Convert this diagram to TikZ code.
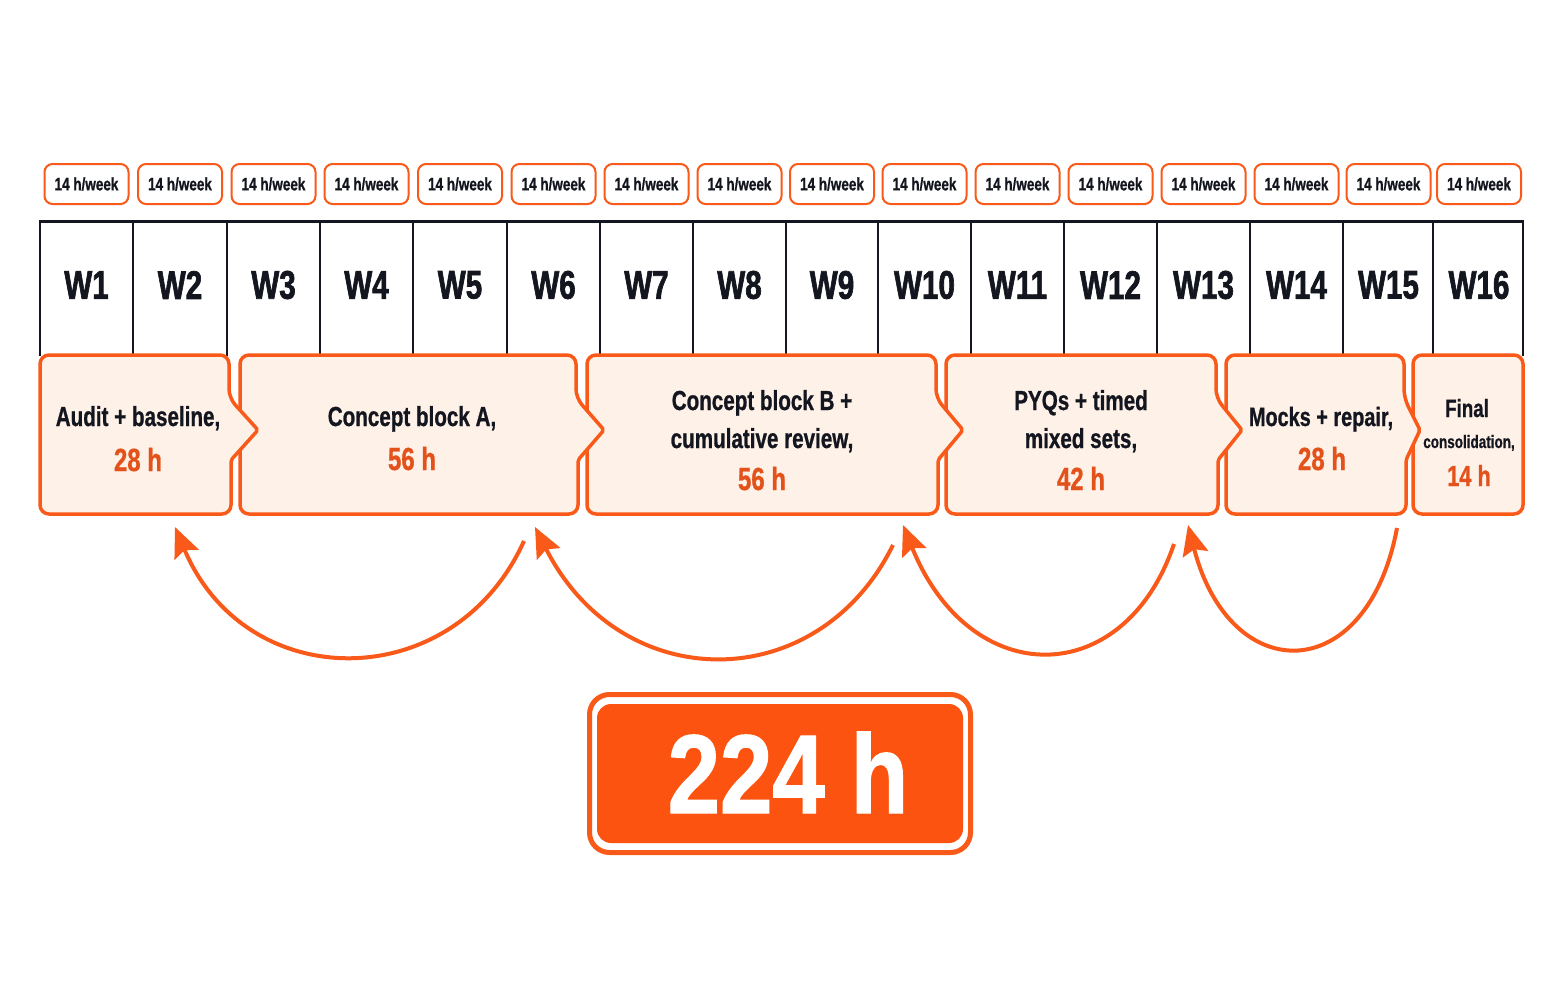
\documentclass[tikz,border=0pt]{standalone}
\usepackage{fontspec}
\usetikzlibrary{arrows.meta}
\newfontfamily\condf{Liberation Sans}[FakeStretch=0.75, BoldFeatures={FakeBold=0.8}]
\newfontfamily\heavyf{Liberation Sans}[FakeStretch=0.74, BoldFeatures={FakeBold=1.6}]
\newfontfamily\bigf{Liberation Sans}[FakeStretch=0.84, BoldFeatures={FakeBold=1.2}]
\definecolor{org}{HTML}{F95A1A}
\definecolor{orgfill}{HTML}{FC5410}
\definecolor{peach}{HTML}{FEF1E8}
\definecolor{ink}{HTML}{14161F}
\definecolor{otext}{HTML}{E4521B}
\newcommand\phbox[3]{%
  \draw[phase] (#1,355) [rounded corners=9pt] -- (#2,355) -- (#2,398)
    [rounded corners=2pt] -- (#3,430) -- (#2+2,460)
    [rounded corners=9pt] -- (#2+2,514) -- (#1,514) -- cycle;}
\begin{document}
\begin{tikzpicture}[x=1pt,y=-1pt,
  wkbox/.style={draw=org, line width=2pt, fill=white, rounded corners=8pt,
    minimum width=84pt, minimum height=40pt, inner sep=0pt,
    font=\condf\bfseries\fontsize{18}{20}\selectfont, text=ink},
  wlab/.style={font=\heavyf\bfseries\fontsize{40}{44}\selectfont, text=ink, inner sep=0pt},
  ptxt/.style={font=\condf\bfseries\fontsize{27.5}{32}\selectfont, text=ink, inner sep=0pt, anchor=base},
  phrs/.style={font=\condf\bfseries\fontsize{32}{36}\selectfont, text=otext, inner sep=0pt, anchor=base},
  phase/.style={draw=org, line width=3.5pt, fill=peach, line join=round},
  loop/.style={draw=org, line width=4pt, -{Stealth[length=30pt,width=26pt,inset=5pt]}},
  tabline/.style={draw=ink, line width=1.8pt}]
\useasboundingbox (0,0) rectangle (1563,1006);
\fill[white] (0,0) rectangle (1563,1006);
% table
\foreach \sx in {40,133,227,320,413,507,600,693,786,878,971,1064,1157,1250,1343,1433,1523}
  \draw[tabline] (\sx,221) -- (\sx,356);
\draw[ink, line width=3pt] (39,221) -- (1524,221);
% week labels and hour labels
\foreach \i/\cx in {1/86.5,2/180,3/273.5,4/366.5,5/460,6/553.5,7/646.5,8/739.5,9/832,10/924.5,11/1017.5,12/1110.5,13/1203.5,14/1296.5,15/1388.5,16/1479}{
  \node[wkbox] (wk\i) at (\cx,184) {14 h/week};
  \node[wlab] (w\i) at (\cx,285) {W\i};
}
% phase boxes (reverse order so chevrons overlap the next box)
\draw[phase] (1413,355) [rounded corners=9pt] -- (1523,355) -- (1523,514) -- (1413,514) -- cycle;
\phbox{1226}{1404}{1420}
\phbox{946}{1216}{1242}
\phbox{587}{936}{963}
\phbox{240}{576}{604}
\phbox{40}{229}{258}
% phase texts
\node[ptxt] (p1a) at (138,426) {Audit + baseline,};
\node[phrs] (p1b) at (138,471) {28 h};
\node[ptxt] (p2a) at (412,426) {Concept block A,};
\node[phrs] (p2b) at (412,470) {56 h};
\node[ptxt] (p3a) at (762,410) {Concept block B +};
\node[ptxt] (p3b) at (762,448) {cumulative review,};
\node[phrs] (p3c) at (762,490) {56 h};
\node[ptxt] (p4a) at (1081,410) {PYQs + timed};
\node[ptxt] (p4b) at (1081,448) {mixed sets,};
\node[phrs] (p4c) at (1081,490) {42 h};
\node[ptxt, font=\condf\bfseries\fontsize{26.5}{30}\selectfont] (p5a) at (1321,426) {Mocks + repair,};
\node[phrs] (p5b) at (1322,470) {28 h};
\node[ptxt, font=\condf\bfseries\fontsize{25}{28}\selectfont] (p6a) at (1467,417) {Final};
\node[ptxt, font=\condf\bfseries\fontsize{18}{20}\selectfont] (p6b) at (1469,448) {consolidation,};
\node[phrs, font=\condf\bfseries\fontsize{29}{32}\selectfont] (p6c) at (1469,486) {14 h};
% loop-back arrows
\coordinate (t1) at (524,541); \coordinate (h1) at (175,527);
\coordinate (t2) at (893,545); \coordinate (h2) at (535,527);
\coordinate (t3) at (1174,544); \coordinate (h3) at (903,525);
\coordinate (t4) at (1397,528); \coordinate (h4) at (1188,525);
\draw[loop] (t1) .. controls (454,696) and (246,696) .. (h1);
\draw[loop] (t2) .. controls (818,697) and (621,697) .. (h2);
\draw[loop] (t3) .. controls (1124,691) and (970,691) .. (h3);
\draw[loop] (t4) .. controls (1367,688) and (1230,688) .. (h4);
% total
\draw[org, line width=5pt, rounded corners=20pt] (589.5,694.5) rectangle (970.5,852.5);
\fill[orgfill, rounded corners=14pt] (597,704) rectangle (963,843);
\node[font=\bigf\bfseries\fontsize{112}{120}\selectfont, text=white, anchor=base, inner sep=0pt] (tot) at (788,813) {224 h};
\end{tikzpicture}
\end{document}
